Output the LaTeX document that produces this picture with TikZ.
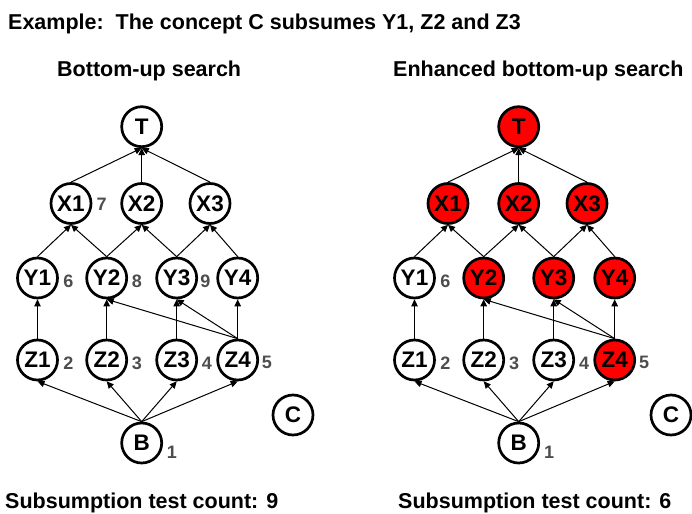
\documentclass[tikz,border=0pt]{standalone}
\usepackage{fontspec}
\setmainfont{Liberation Sans}
\usetikzlibrary{arrows.meta}
\definecolor{numgray}{RGB}{77,77,77}
\definecolor{hired}{RGB}{255,0,0}
\begin{document}
\begin{tikzpicture}[x=1pt,y=-1pt,
  cnode/.style={circle,draw,line width=2.7pt,minimum size=40pt,inner sep=0pt,font=\fontsize{22.5}{22.5}\selectfont\bfseries},
  hot/.style={cnode,fill=hired},
  num/.style={text=numgray,font=\fontsize{18}{18}\selectfont\bfseries,inner sep=0pt},
  arr/.style={-{Triangle[length=7pt,width=6.5pt]},line width=1pt},
  ttl/.style={font=\fontsize{21.5}{21.5}\selectfont\bfseries,inner sep=0pt}]
\useasboundingbox (0,0) rectangle (692,513);

\node[ttl,anchor=base west] (title) at (8,30) {Example:\ \ The concept C subsumes Y1, Z2 and Z3};
\node[ttl,anchor=base west] (lt) at (57,77) {Bottom-up search};
\node[ttl,anchor=base west] (rt) at (393,77) {Enhanced bottom-up search};
\node[ttl,anchor=base west] (lc) at (5,508) {Subsumption test count: 9};
\node[ttl,anchor=base west] (rc) at (398,508) {Subsumption test count: 6};

% left panel
\begin{scope}[name prefix=L-]
\node[cnode] (T) at (141.7,126.7) {T};
\node[cnode] (X1) at (71,203.5) {X1};
\node[cnode] (X2) at (141.7,203.5) {X2};
\node[cnode] (X3) at (210,203.5) {X3};
\node[cnode] (Y1) at (37.5,278) {Y1};
\node[cnode] (Y2) at (106.7,278) {Y2};
\node[cnode] (Y3) at (176.7,278) {Y3};
\node[cnode] (Y4) at (237.7,278) {Y4};
\node[cnode] (Z1) at (37.5,360) {Z1};
\node[cnode] (Z2) at (106.7,360) {Z2};
\node[cnode] (Z3) at (176.7,360) {Z3};
\node[cnode] (Z4) at (237.7,360) {Z4};
\node[cnode] (B) at (141.7,443) {B};
\node[cnode] (C) at (293,415) {C};
\node[num] (n7) at (101.7,204) {7};
\node[num] (n6) at (68.3,281) {6};
\node[num] (n8) at (137,281) {8};
\node[num] (n9) at (205.5,281) {9};
\node[num] (n2) at (68.3,363) {2};
\node[num] (n3) at (137,363) {3};
\node[num] (n4) at (207,363) {4};
\node[num] (n5) at (267,362) {5};
\node[num] (n1) at (172,452) {1};
\foreach \a/\b in {X1/T,X2/T,X3/T,Y1/X1,Y2/X1,Y2/X2,Y3/X2,Y3/X3,Y4/X3,Z1/Y1,Z2/Y2,Z3/Y3,Z4/Y4,Z4/Y2,Z4/Y3,B/Z1,B/Z2,B/Z3,B/Z4}
  \draw[arr] (\a.north) -- (\b.south);
\end{scope}

% right panel
\begin{scope}[xshift=377pt,name prefix=R-]
\node[hot] (T) at (141.7,126.7) {T};
\node[hot] (X1) at (71,203.5) {X1};
\node[hot] (X2) at (141.7,203.5) {X2};
\node[hot] (X3) at (210,203.5) {X3};
\node[cnode] (Y1) at (37.5,278) {Y1};
\node[hot] (Y2) at (106.7,278) {Y2};
\node[hot] (Y3) at (176.7,278) {Y3};
\node[hot] (Y4) at (237.7,278) {Y4};
\node[cnode] (Z1) at (37.5,360) {Z1};
\node[cnode] (Z2) at (106.7,360) {Z2};
\node[cnode] (Z3) at (176.7,360) {Z3};
\node[hot] (Z4) at (237.7,360) {Z4};
\node[cnode] (B) at (141.7,443) {B};
\node[cnode] (C) at (294,415) {C};
\node[num] (n6) at (68.3,281) {6};
\node[num] (n2) at (68.3,363) {2};
\node[num] (n3) at (137,363) {3};
\node[num] (n4) at (207,363) {4};
\node[num] (n5) at (267,362) {5};
\node[num] (n1) at (172,452) {1};
\foreach \a/\b in {X1/T,X2/T,X3/T,Y1/X1,Y2/X1,Y2/X2,Y3/X2,Y3/X3,Y4/X3,Z1/Y1,Z2/Y2,Z3/Y3,Z4/Y4,Z4/Y2,Z4/Y3,B/Z1,B/Z2,B/Z3,B/Z4}
  \draw[arr] (\a.north) -- (\b.south);
\end{scope}
\end{tikzpicture}
\end{document}
